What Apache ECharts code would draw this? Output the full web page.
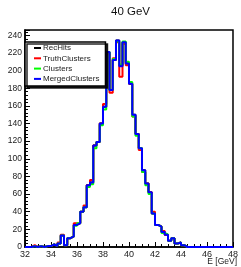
<!DOCTYPE html>
<html lang="en">
<head>
    <meta charset="utf-8"/>
    <title>40 GeV</title>
    <script src="https://cdn.jsdelivr.net/npm/echarts@6/dist/echarts.min.js"></script>
</head>
<body style="margin:0;background:#fff;">
<div id="chart" style="width:241px;height:267px;"></div>

<script type="text/javascript">
    // histogram: 64 bins of 0.25 GeV from 32 to 48
    var binStart = 32;
    var binWidth = 0.25;
    var xTicks = [32, 34, 36, 38, 40, 42, 44, 46, 48];
    var yTicks = [0, 20, 40, 60, 80, 100, 120, 140, 160, 180, 200, 220, 240];
    var seriesNames = ["RecHits", "TruthClusters", "Clusters", "MergedClusters"];
    var seriesColors = ["#000000", "#ff0000", "#00ff00", "#0000ff"];

    var recHits = [0, 0, 1, 0, 1, 0, 1, 1, 3, 1, 4, 13, 2, 10, 12, 25,
        27, 40, 45, 70, 73, 115, 119, 140, 159, 221, 178, 212, 234, 206, 232, 208,
        185, 150, 128, 112, 87, 72, 62, 38, 25, 23, 17, 14, 7, 10, 4, 5,
        2, 0, 0, 0, 0, 0, 0, 0, 0, 0, 0, 0, 0, 0, 0, 0];
    var truthClusters = [0, 0, 2, 0, 1, 0, 1, 1, 3, 1, 5, 14, 2, 10, 12, 27,
        27, 40, 47, 70, 76, 115, 119, 140, 162, 219, 175, 214, 232, 193, 230, 206,
        185, 148, 128, 110, 85, 72, 62, 40, 25, 23, 18, 14, 7, 10, 4, 5,
        2, 0, 0, 0, 0, 0, 0, 0, 0, 0, 0, 0, 0, 0, 0, 0];
    var clusters = [0, 0, 1, 0, 1, 0, 1, 1, 3, 1, 4, 13, 2, 10, 12, 24,
        27, 40, 45, 68, 71, 112, 119, 138, 156, 221, 178, 213, 233, 207, 233, 210,
        187, 148, 126, 112, 85, 70, 60, 38, 25, 23, 16, 14, 7, 10, 4, 5,
        2, 0, 0, 0, 0, 0, 0, 0, 0, 0, 0, 0, 0, 0, 0, 0];
    var mergedClusters = [0, 0, 1, 0, 1, 0, 1, 1, 3, 1, 4, 13, 2, 10, 12, 25,
        27, 40, 45, 70, 73, 115, 119, 140, 159, 221, 178, 212, 234, 205, 232, 208,
        185, 150, 128, 112, 87, 72, 62, 38, 25, 23, 17, 14, 7, 10, 4, 5,
        2, 0, 0, 0, 0, 0, 0, 0, 0, 0, 0, 0, 0, 0, 0, 0];

    var allValues = [recHits, truthClusters, clusters, mergedClusters];

    // step points at bin low edges, plus closing point at the last edge
    function toSteps(vals) {
        var pts = [];
        for (var i = 0; i < vals.length; i++) {
            pts.push([binStart + i * binWidth, vals[i]]);
        }
        pts.push([binStart + vals.length * binWidth, vals[vals.length - 1]]);
        return pts;
    }

    var chart = echarts.init(document.getElementById('chart'), null, {renderer: 'canvas'});

    var series = [];
    for (var s = 0; s < seriesNames.length; s++) {
        series.push({
            name: seriesNames[s],
            type: 'line',
            step: 'end',
            symbol: 'none',
            clip: false,
            animation: false,
            itemStyle: {color: seriesColors[s]},
            lineStyle: {color: seriesColors[s], width: 2},
            data: toSteps(allValues[s])
        });
    }

    chart.setOption({
        animation: false,
        textStyle: {fontFamily: 'Liberation Sans, Arial, sans-serif'},
        title: {
            text: '40 GeV',
            left: 130.5,
            top: 6,
            padding: 0,
            textAlign: 'center',
            textStyle: {fontSize: 11.5, fontWeight: 'normal', color: '#111', fontFamily: 'Liberation Sans'}
        },
        legend: {
            data: seriesNames,
            orient: 'vertical',
            left: 25,
            top: 42,
            padding: [1, 6, 2, 9],
            itemWidth: 7,
            itemHeight: 2,
            itemGap: 0.3,
            icon: 'rect',
            backgroundColor: '#fff',
            borderColor: '#000',
            borderWidth: 1.5,
            shadowColor: 'rgba(0,0,0,0.85)',
            shadowOffsetX: 2,
            shadowOffsetY: 2,
            shadowBlur: 0,
            textStyle: {fontSize: 8, lineHeight: 10, color: '#222', padding: [0, 0, 0, -3]}
        },
        grid: {
            left: 25, right: 5, top: 30, bottom: 20,
            show: true,
            borderColor: '#000',
            borderWidth: 1.5,
            backgroundColor: '#fff'
        },
        xAxis: {
            type: 'value',
            min: xTicks[0],
            max: xTicks[xTicks.length - 1],
            interval: 2,
            axisLine: {lineStyle: {color: '#000', width: 1.5}},
            axisTick: {inside: true, length: 5, lineStyle: {color: '#000'}},
            minorTick: {show: true, splitNumber: 4, length: 3, lineStyle: {color: '#000'}},
            splitLine: {show: false},
            axisLabel: {fontSize: 9, color: '#222', margin: 3, showMaxLabel: true}
        },
        yAxis: {
            type: 'value',
            min: yTicks[0],
            max: 246,
            interval: 20,
            axisLine: {show: true, lineStyle: {color: '#000', width: 1.5}},
            axisTick: {show: true, inside: true, length: 5, lineStyle: {color: '#000'}},
            minorTick: {show: true, splitNumber: 5, length: 3, lineStyle: {color: '#000'}},
            splitLine: {show: false},
            axisLabel: {
                fontSize: 8.5, color: '#222', margin: 3, showMaxLabel: false,
                formatter: function (v) {
                    return yTicks.indexOf(v) >= 0 ? String(v) : '';
                }
            }
        },
        graphic: [{
            type: 'text',
            right: 4,
            top: 257,
            style: {text: 'E [GeV]', fontSize: 8.5, fill: '#222', fontFamily: 'Liberation Sans'}
        }],
        series: series
    });
</script>
</body>
</html>
